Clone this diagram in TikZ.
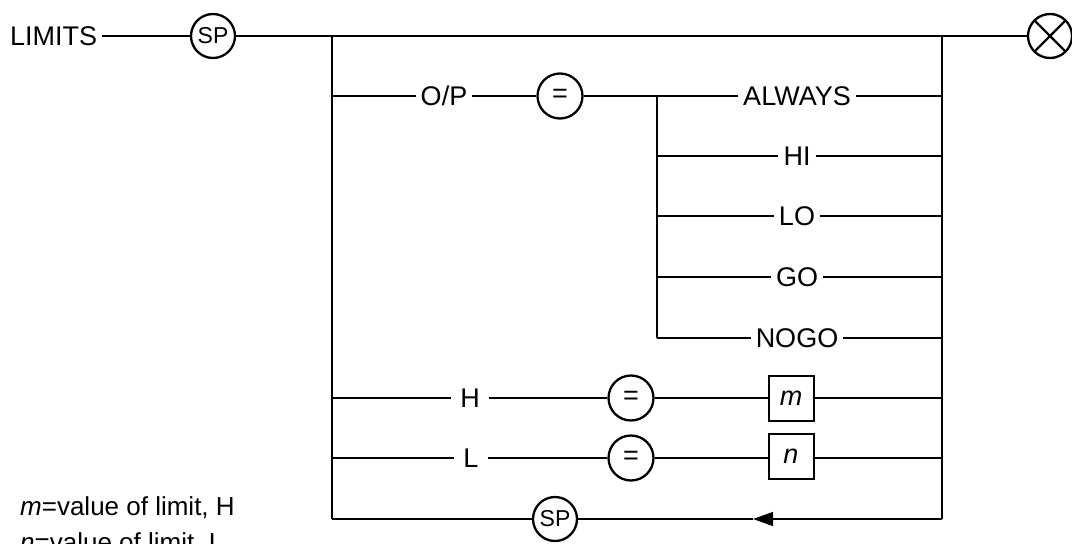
\documentclass[tikz,border=0pt]{standalone}
\usepackage{fontspec}
\setmainfont{Liberation Sans}
\usetikzlibrary{arrows.meta}
\tikzset{
  lnk/.style={draw=black,line width=1.4pt},
  kw/.style={font=\fontsize{27}{31}\selectfont,inner sep=5pt},
  kwh/.style={font=\fontsize{27}{31}\selectfont,inner sep=9pt},
  rnd/.style={circle,draw=black,line width=2.3pt,minimum size=44pt,inner sep=0pt,font=\fontsize{23}{26}\selectfont},
  req/.style={circle,draw=black,line width=2.3pt,minimum size=45pt,inner sep=0pt,font=\fontsize{27}{31}\selectfont},
  val/.style={rectangle,draw=black,line width=2pt,minimum size=45pt,inner sep=0pt,font=\fontsize{27}{31}\selectfont\itshape},
  ext/.style={circle,draw=black,line width=2.3pt,minimum size=44pt,inner sep=0pt,
    path picture={\draw[line width=2.3pt]
      (path picture bounding box.north west) -- (path picture bounding box.south east)
      (path picture bounding box.north east) -- (path picture bounding box.south west);}},
  arw/.style={-{Triangle[length=20pt,width=14pt]}},
  nt/.style={font=\fontsize{26}{30}\selectfont,anchor=base west,inner sep=0pt},
}
\begin{document}
\begin{tikzpicture}[x=1pt,y=-1pt]
\clip (0,0) rectangle (1072,544);
% ---- entry line
\node[kw,anchor=west] (lim) at (5,36) {LIMITS};
\node[rnd] (sp1) at (213,36) {SP};
\coordinate (tl) at (332,36); \coordinate (tr) at (942,36);
\node[ext] (fin) at (1050,36) {};
\draw[lnk] (lim) -- (sp1) -- (tl) -- (tr) -- (fin);
% ---- O/P and its choices
\coordinate (l1) at (332,96);
\node[kw] (op) at (444,96) {O/P};
\node[req] (eq1) at (560,96) {=};
\foreach \t/\y [count=\i] in {ALWAYS/96,HI/156,LO/216,GO/277,NOGO/338} {
  \coordinate (a\i) at (657,\y); \coordinate (b\i) at (942,\y);
  \node[kw] (o\i) at (797,\y) {\t};
  \draw[lnk] (a\i) -- (o\i) -- (b\i);
}
\draw[lnk] (l1) -- (op) -- (eq1) -- (a1);
\draw[lnk] (a1) -- (a5);
% ---- H and L
\coordinate (l6) at (332,398); \coordinate (r6) at (942,398);
\node[kwh] (hh) at (470,398) {H};
\node[req] (eq2) at (631,398) {=};
\node[val] (vm) at (791,398) {m};
\draw[lnk] (l6) -- (hh) -- (eq2) -- (vm) -- (r6);
\coordinate (l7) at (332,458); \coordinate (r7) at (942,458);
\node[kwh] (ll) at (471,458) {L};
\node[req] (eq3) at (631,458) {=};
\node[val] (vn) at (791,456) {n};
\draw[lnk] (l7) -- (ll) -- (eq3) -- (vn.west|-l7) (vn.east|-r7) -- (r7);
% ---- loop back
\coordinate (lb) at (332,519); \coordinate (rb) at (942,519);
\coordinate (tip) at (753,519);
\node[rnd] (sp2) at (555,519) {SP};
\draw[lnk,arw] (rb) -- (tip);
\draw[lnk] (tip) -- (sp2) -- (lb);
\draw[lnk] (tl) -- (lb) (tr) -- (rb);
% ---- notes
\node[nt] (fm) at (20,515) {\textit{m}=value of limit, H};
\node[nt] (fn) at (20,551) {\textit{n}=value of limit, L};
\end{tikzpicture}
\end{document}
